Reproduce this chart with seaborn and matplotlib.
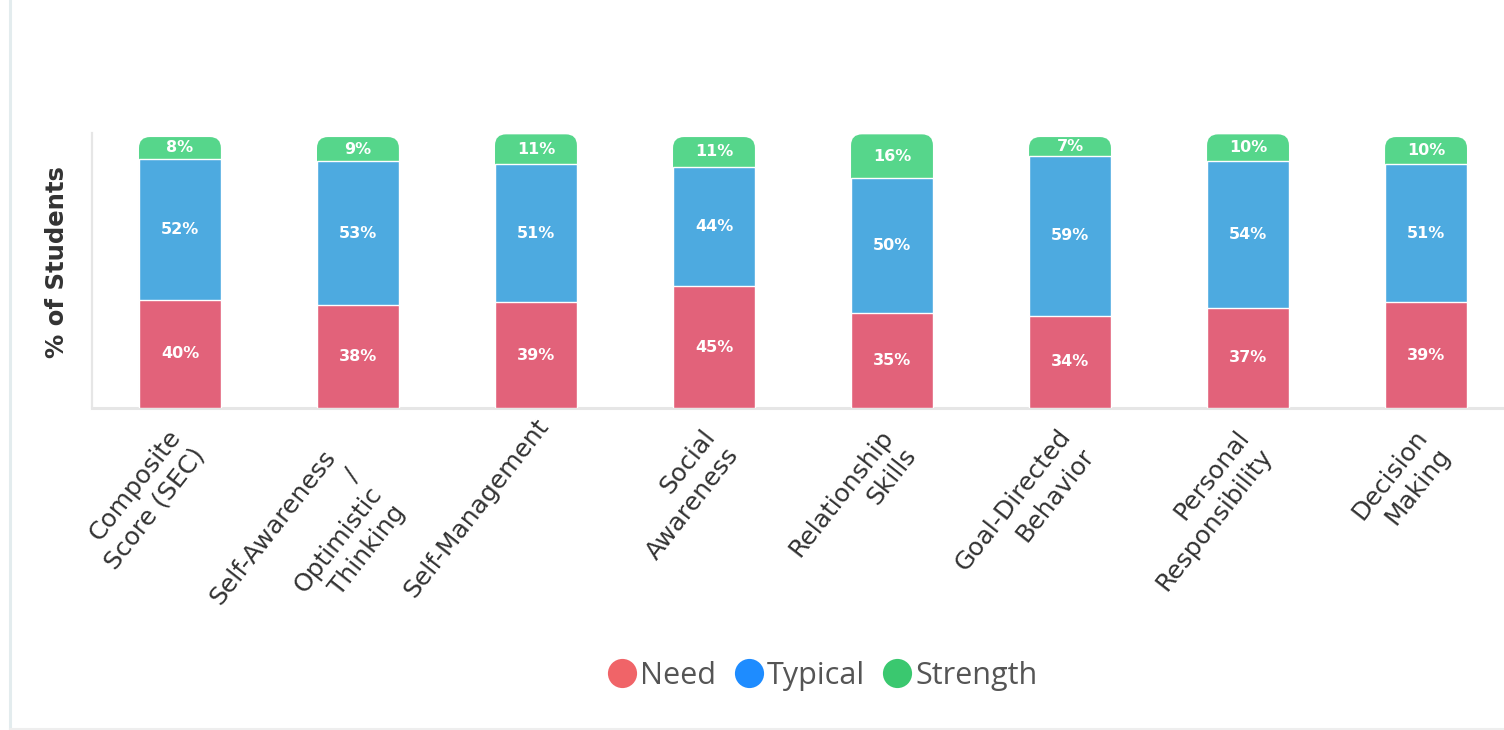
import numpy as np
import pandas as pd
import seaborn as sns
import matplotlib.pyplot as plt
from matplotlib.patches import FancyBboxPatch
from matplotlib.lines import Line2D
from matplotlib.transforms import ScaledTranslation

# ---- data -------------------------------------------------------------
categories = [
    "Composite\nScore (SEC)",
    "Self-Awareness\n/\nOptimistic\nThinking",
    "Self-Management",
    "Social\nAwareness",
    "Relationship\nSkills",
    "Goal-Directed\nBehavior",
    "Personal\nResponsibility",
    "Decision\nMaking",
]
need = [40, 38, 39, 45, 35, 34, 37, 39]
typical = [52, 53, 51, 44, 50, 59, 54, 51]
strength = [8, 9, 11, 11, 16, 7, 10, 10]
series_names = ["Need", "Typical", "Strength"]

# ---- styling ----------------------------------------------------------
bar_colors = {"Need": "#E2627A", "Typical": "#4DAAE0", "Strength": "#56D68B"}
legend_colors = {"Need": "#F06468", "Typical": "#1E8CFF", "Strength": "#3AC86F"}
text_dark = "#333333"

sns.set_theme(style="white")
plt.rcParams["font.family"] = ["DejaVu Sans"]

W, H = 1504, 730
DPI = 100
fig = plt.figure(figsize=(W / DPI, H / DPI), dpi=DPI)
ax = fig.add_axes([92 / W, 1 - 408 / H, (W - 92) / W, 275 / H])

df = pd.DataFrame({
    "category": categories,
    "Need": need,
    "Typical": typical,
    "Strength": strength,
})
df["need_top"] = df["Need"]
df["typical_top"] = df["Need"] + df["Typical"]
df["strength_top"] = df["typical_top"] + df["Strength"]

bar_w = 0.46
x_lo, x_hi = -0.494, 7.438
y_hi = 101.5

# back layer: full stack height in the Strength colour
sns.barplot(data=df, x="category", y="strength_top", color=bar_colors["Strength"],
            saturation=1, width=bar_w, ax=ax, order=categories)
strength_patches = list(ax.patches)

# round the top corners of the stack (the lower corners are covered)
px_x = (W - 92) / (x_hi - x_lo)      # pixels per x unit
px_y = 275 / y_hi                    # pixels per y unit
radius_px = 11
for p in strength_patches:
    x0, y0 = p.get_x(), p.get_y()
    w, h = p.get_width(), p.get_height()
    p.remove()
    rounded = FancyBboxPatch(
        (x0, y0), w, h,
        boxstyle=f"round,pad=0,rounding_size={radius_px / px_x}",
        mutation_aspect=px_x / px_y,
        facecolor=bar_colors["Strength"], edgecolor="none", zorder=1.5,
    )
    ax.add_patch(rounded)

sns.barplot(data=df, x="category", y="typical_top", color=bar_colors["Typical"],
            saturation=1, width=bar_w, ax=ax, order=categories, zorder=2)
sns.barplot(data=df, x="category", y="need_top", color=bar_colors["Need"],
            saturation=1, width=bar_w, ax=ax, order=categories, zorder=3)

# value labels centred in each segment
for i in range(len(categories)):
    segs = [
        (need[i], 0),
        (typical[i], need[i]),
        (strength[i], need[i] + typical[i]),
    ]
    for val, base in segs:
        ax.text(i, base + val / 2, f"{val}%", ha="center", va="center",
                color="white", fontsize=11.5, fontweight="bold", zorder=5)

# ---- axes -------------------------------------------------------------
ax.set_xlim(x_lo, x_hi)
ax.set_ylim(0, y_hi)
ax.set_yticks([])
ax.set_xlabel("")
ax.set_ylabel("% of Students", fontsize=17.5, fontweight="bold", color=text_dark)
ax.yaxis.set_label_coords(-0.0165, 0.53)

for side in ["top", "right"]:
    ax.spines[side].set_visible(False)
ax.spines["left"].set_color("#E6E6E6")
ax.spines["left"].set_linewidth(1.6)
ax.spines["bottom"].set_color("#E6E6E6")
ax.spines["bottom"].set_linewidth(2.2)

ax.set_xticks(range(len(categories)), labels=categories)
ax.tick_params(axis="x", length=0, pad=0, colors=text_dark, labelsize=18)
for lab in ax.get_xticklabels():
    n_lines = lab.get_text().count("\n") + 1
    dx_px, dy_px = 8, 14 + 19.5 * (n_lines - 1)
    lab.set_rotation(52)
    lab.set_rotation_mode("anchor")
    lab.set_horizontalalignment("right")
    lab.set_verticalalignment("center")
    lab.set_multialignment("right")
    lab.set_linespacing(1.3)
    lab.set_transform(lab.get_transform() +
                      ScaledTranslation(dx_px / DPI, -dy_px / DPI, fig.dpi_scale_trans))

# ---- legend -----------------------------------------------------------
handles = [
    Line2D([], [], linestyle="none", marker="o", markersize=21,
           markerfacecolor=legend_colors[s], markeredgecolor="none")
    for s in series_names
]
leg = fig.legend(handles, series_names, loc="center", ncol=3,
                 bbox_to_anchor=(823 / W, 1 - 676 / H), frameon=False,
                 prop={"family": "Open Sans", "size": 22},
                 handlelength=0.9, handletextpad=0.15, columnspacing=0.6,
                 borderpad=0, borderaxespad=0)
for t in leg.get_texts():
    t.set_color("#555555")

# ---- light panel border -------------------------------------------------
fig.add_artist(Line2D([10 / W, 10 / W], [0, 1], transform=fig.transFigure,
                      color="#E3ECEE", linewidth=2.2))
fig.add_artist(Line2D([10 / W, 1], [1.5 / H, 1.5 / H], transform=fig.transFigure,
                      color="#EEEEEE", linewidth=1.5))

fig.savefig("out.png", dpi=DPI, facecolor="white")
